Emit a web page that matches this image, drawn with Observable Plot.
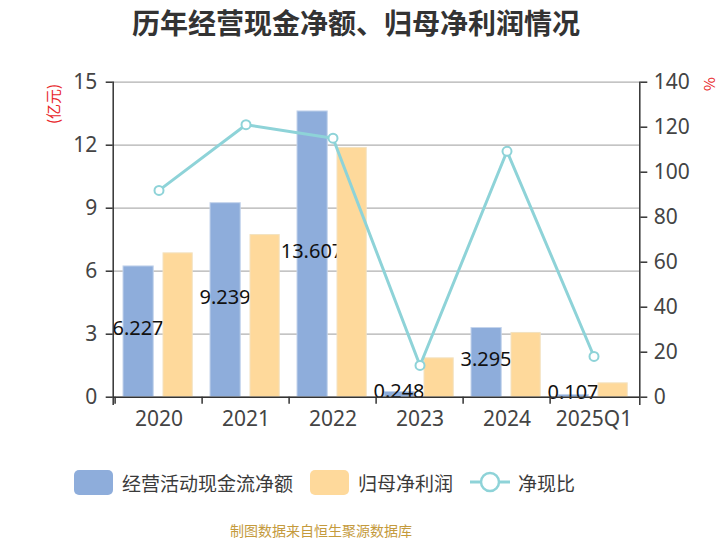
<!DOCTYPE html>
<html><head><meta charset="utf-8">
<script src="https://cdn.jsdelivr.net/npm/d3@7"></script>
<script src="https://cdn.jsdelivr.net/npm/@observablehq/plot@0.6"></script>
<style>
body{margin:0;background:#fff;}
#wrap{position:relative;width:720px;height:540px;font-family:"Noto Sans","Noto Sans CJK SC",sans-serif;overflow:hidden;}
#chart{position:absolute;left:0;top:0;}
#title{position:absolute;left:0;top:4px;width:712px;text-align:center;font-family:"Noto Sans CJK SC",sans-serif;font-weight:bold;font-size:28px;line-height:36px;color:#333;}
.unit{position:absolute;font-family:"Noto Sans CJK SC",sans-serif;font-size:15px;color:#e8262a;transform:rotate(-90deg);transform-origin:center;white-space:nowrap;line-height:16px;}
#legend{position:absolute;left:74px;top:469px;height:26px;display:flex;align-items:center;font-family:"Noto Sans CJK SC",sans-serif;font-size:19px;color:#3a3a3a;}
.sw{width:39px;height:25px;border-radius:5px;margin-right:9px;}
.lt{margin-right:17px;}
#caption{position:absolute;left:230px;top:520px;font-family:"Noto Sans CJK SC",sans-serif;font-size:14px;line-height:20px;color:#c49a3c;}
</style></head><body>
<div id="wrap">
<div id="chart"></div>
<div id="title">历年经营现金净额、归母净利润情况</div>
<div class="unit" id="uL" style="left:33px;top:96px;">(亿元)</div>
<div class="unit" id="uR" style="left:702px;top:76px;">%</div>
<div id="legend"></div>
<div id="caption">制图数据来自恒生聚源数据库</div>
</div>
<script>
const years = ["2020", "2021", "2022", "2023", "2024", "2025Q1"];
const cashFlow = [6.227, 9.239, 13.607, 0.248, 3.295, 0.107];
const netProfit = [6.85, 7.72, 11.87, 1.85, 3.06, 0.66];
const ratio = [91.9, 121.1, 115.1, 14.1, 109.3, 18.1];
const leftTicks = [0, 3, 6, 9, 12, 15];
const rightTicks = [0, 20, 40, 60, 80, 100, 120, 140];
const seriesNames = ["经营活动现金流净额", "归母净利润", "净现比"];

const colBlue = "#8eaddb", colOrange = "#fed99b", colLine = "#8ed3d8";
const leftMax = 15, rightMax = 140;
const toLeft = v => v * leftMax / rightMax;

const data = years.map((y, i) => ({year: y, cash: cashFlow[i], profit: netProfit[i], ratio: ratio[i]}));

const W = 720, H = 540, mL = 112.7, mR = 80.7, mT = 81.7, mB = 143.3;
const bw = (W - mL - mR) / years.length;

const chart = Plot.plot({
  width: W, height: H,
  marginLeft: mL, marginRight: mR, marginTop: mT, marginBottom: mB,
  style: {fontFamily: '"Noto Sans", "Noto Sans CJK SC", sans-serif', background: "transparent"},
  x: {type: "band", domain: years, padding: 0, axis: null},
  y: {domain: [0, leftMax], axis: null},
  marks: [
    Plot.gridY(leftTicks, {stroke: "#b0b0b0", strokeOpacity: 1, strokeWidth: 1.2}),
    Plot.barY(data, {x: "year", y: "cash", fill: colBlue, stroke: "#c4d4ec", strokeWidth: 1, insetLeft: 8, insetRight: bw - 39}),
    Plot.text(data, {x: "year", y: d => d.cash / 2, text: d => d.cash.toFixed(3), dx: -21, dy: -3, fontSize: 20, fill: "#111"}),
    Plot.barY(data, {x: "year", y: "profit", fill: colOrange, stroke: "#f3e2c0", strokeWidth: 1, insetLeft: 48, insetRight: bw - 78}),
    Plot.ruleY([0], {stroke: "#333", strokeWidth: 1.5}),
    Plot.frame({anchor: "left", stroke: "#333", strokeWidth: 1.5, insetBottom: -7}),
    Plot.frame({anchor: "right", stroke: "#333", strokeWidth: 1.5, insetBottom: -7}),
    Plot.axisY(leftTicks, {anchor: "left", tickSize: 7, tickPadding: 9, fontSize: 21, color: "#444", stroke: "#333", strokeWidth: 1.5, label: null}),
    Plot.axisY(rightTicks.map(toLeft), {anchor: "right", tickSize: 7, tickPadding: 7, fontSize: 21, color: "#444", stroke: "#333", strokeWidth: 1.5, label: null,
      tickFormat: d => String(Math.round(d * rightMax / leftMax))}),
    Plot.axisX(years, {anchor: "bottom", tickSize: 7, tickFormat: () => "", dx: -bw / 2, stroke: "#333", strokeWidth: 1.5, label: null}),
    Plot.axisX(years, {anchor: "bottom", tickSize: 0, tickPadding: 14, fontSize: 21, color: "#444", label: null}),
    Plot.line(data, {x: "year", y: d => toLeft(d.ratio), stroke: colLine, strokeWidth: 3}),
    Plot.dot(data, {x: "year", y: d => toLeft(d.ratio), r: 4.5, fill: "#fff", stroke: colLine, strokeWidth: 2})
  ]
});
document.getElementById("chart").appendChild(chart);

const legend = document.getElementById("legend");
legend.innerHTML =
  `<div class="sw" style="background:${colBlue}"></div><span class="lt">${seriesNames[0]}</span>` +
  `<div class="sw" style="background:${colOrange}"></div><span class="lt">${seriesNames[1]}</span>` +
  `<svg width="40" height="26" style="margin-right:8px"><line x1="0" x2="40" y1="13" y2="13" stroke="${colLine}" stroke-width="3"/><circle cx="20" cy="13" r="9" fill="#fff" stroke="${colLine}" stroke-width="2.5"/></svg><span>${seriesNames[2]}</span>`;
</script>
</body></html>
